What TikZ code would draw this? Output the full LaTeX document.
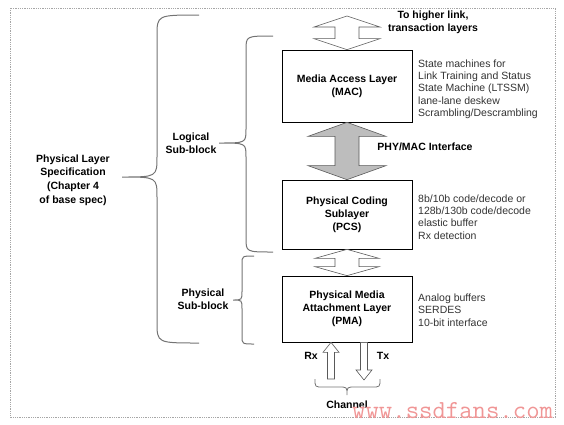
\documentclass[tikz,border=0pt]{standalone}
\usepackage{fontspec}
\setmainfont{Liberation Sans}
\usetikzlibrary{calc}
\definecolor{markpink}{RGB}{240,150,150}

% wide hollow arrow with a head at each end
\newcommand{\dblarrow}[6]{%
  \draw[#6] let \p1=(#1), \p2=(#2) in
    (\x1,\y1) -- (\x1+#3pt,\y1-#5pt) -- (\x1+#4pt,\y1-#5pt) -- (\x2+#4pt,\y2+#5pt)
    -- (\x2+#3pt,\y2+#5pt) -- (\x2,\y2) -- (\x2-#3pt,\y2+#5pt) -- (\x2-#4pt,\y2+#5pt)
    -- (\x1-#4pt,\y1-#5pt) -- (\x1-#3pt,\y1-#5pt) -- cycle;}

\tikzset{
  layerbox/.style={draw, line width=0.7pt, minimum width=130pt, align=center,
    font=\fontsize{10.5}{13}\selectfont\bfseries},
  desc/.style={anchor=west, inner sep=0pt, align=left,
    font=\fontsize{10.5}{12.3}\selectfont, text=black!80},
  tag/.style={align=center, inner sep=0pt, font=\fontsize{10.5}{13}\selectfont\bfseries},
  bracket/.style={draw=black!55, line width=1pt},
  blockarrow/.style={draw=black!65, line width=0.6pt, fill=white, line join=miter},
}

\begin{document}
\begin{tikzpicture}[x=1pt,y=-1pt]
      \useasboundingbox (0,0) rectangle (564,424);
      \draw[black!35, line width=0.8pt, densely dotted] (10,8) rectangle (555,417);

      \node[layerbox, minimum height=72pt] (mac) at (347,86) {Media Access Layer\\(MAC)};
      \node[layerbox, minimum height=69pt] (pcs) at (347,214.5) {Physical Coding\\Sublayer\\(PCS)};
      \node[layerbox, minimum height=66pt] (pma) at (347,309) {Physical Media\\Attachment Layer\\(PMA)};

      \coordinate (top) at (347,16);
      \coordinate (rxtail) at (331,379);
      \coordinate (txtip) at (364,380);

      \dblarrow{top}{mac.north}{33}{12}{11}{blockarrow}
      \dblarrow{mac.south}{pcs.north}{39}{12}{14}{blockarrow, fill=black!26}
      \dblarrow{pcs.south}{pma.north}{32}{12}{9}{blockarrow}

      % Rx goes up into the PMA, Tx comes out of it
      \draw[blockarrow] let \p1=(pma.south -| rxtail), \p2=(rxtail) in
        (\x1,\y1) -- (\x1+8pt,\y1-10pt) -- (\x1+3.5pt,\y1-10pt) -- (\x2+3.5pt,\y2)
        -- (\x2-3.5pt,\y2) -- (\x1-3.5pt,\y1-10pt) -- (\x1-8pt,\y1-10pt) -- cycle;
      \draw[blockarrow] let \p1=(pma.south -| txtip), \p2=(txtip) in
        (\x1-3.5pt,\y1) -- (\x1+3.5pt,\y1) -- (\x2+3.5pt,\y2+10pt) -- (\x2+8pt,\y2+10pt)
        -- (\x2,\y2) -- (\x2-8pt,\y2+10pt) -- (\x2-3.5pt,\y2+10pt) -- cycle;

      \node[tag] (higher) at (433,22) {To higher link,\\transaction layers};
      \node[tag] (phymac) at (425,147) {PHY/MAC Interface};
      \node[tag] (rx) at (311,356) {Rx};
      \node[tag] (tx) at (383,356) {Tx};
      \node[tag] (channel) at (347,405) {Channel};

      \node[desc] (macdesc) at (418,89) {State machines for\\Link Training and Status\\State Machine (LTSSM)\\lane-lane deskew\\Scrambling/Descrambling};
      \node[desc] (pcsdesc) at (418,217) {8b/10b code/decode or\\128b/130b code/decode\\elastic buffer\\Rx detection};
      \node[desc] (pmadesc) at (418,310) {Analog buffers\\SERDES\\10-bit interface};

      \node[tag, font=\fontsize{10.5}{13.7}\selectfont\bfseries] (physpec) at (73,180)
        {Physical Layer\\Specification\\(Chapter 4\\of base spec)};
      \node[tag] (logical) at (191,143) {Logical\\Sub-block};
      \node[tag] (physical) at (203,299) {Physical\\Sub-block};

      % braces
      \draw[bracket] (199,15) .. controls (157,15) .. (157,36) -- (157,156)
        .. controls (157,177) .. (122,177) .. controls (157,177) .. (157,198)
        -- (157,322) .. controls (157,343) .. (199,343);
      \draw[bracket] (273,36) .. controls (246,36) .. (246,50) -- (246,129)
        .. controls (246,143) .. (219,143) .. controls (246,143) .. (246,157)
        -- (246,238) .. controls (246,252) .. (273,252);
      \draw[bracket] (254,256) .. controls (242,256) .. (242,264) -- (242,291)
        .. controls (242,300) .. (233,300) .. controls (242,300) .. (242,309)
        -- (242,336) .. controls (242,344) .. (254,344);
      \draw[bracket, line width=0.8pt] (315,379) .. controls (315,387) .. (323,387) -- (339,387)
        .. controls (347,387) .. (347,395) .. controls (347,387) .. (355,387)
        -- (372,387) .. controls (380,387) .. (380,379);

      \node[anchor=base west, inner sep=0pt, text=markpink,
        font=\fontsize{26}{26}\ttfamily] (mark) at (352,418) {www.ssdfans.com};
\end{tikzpicture}
\end{document}
